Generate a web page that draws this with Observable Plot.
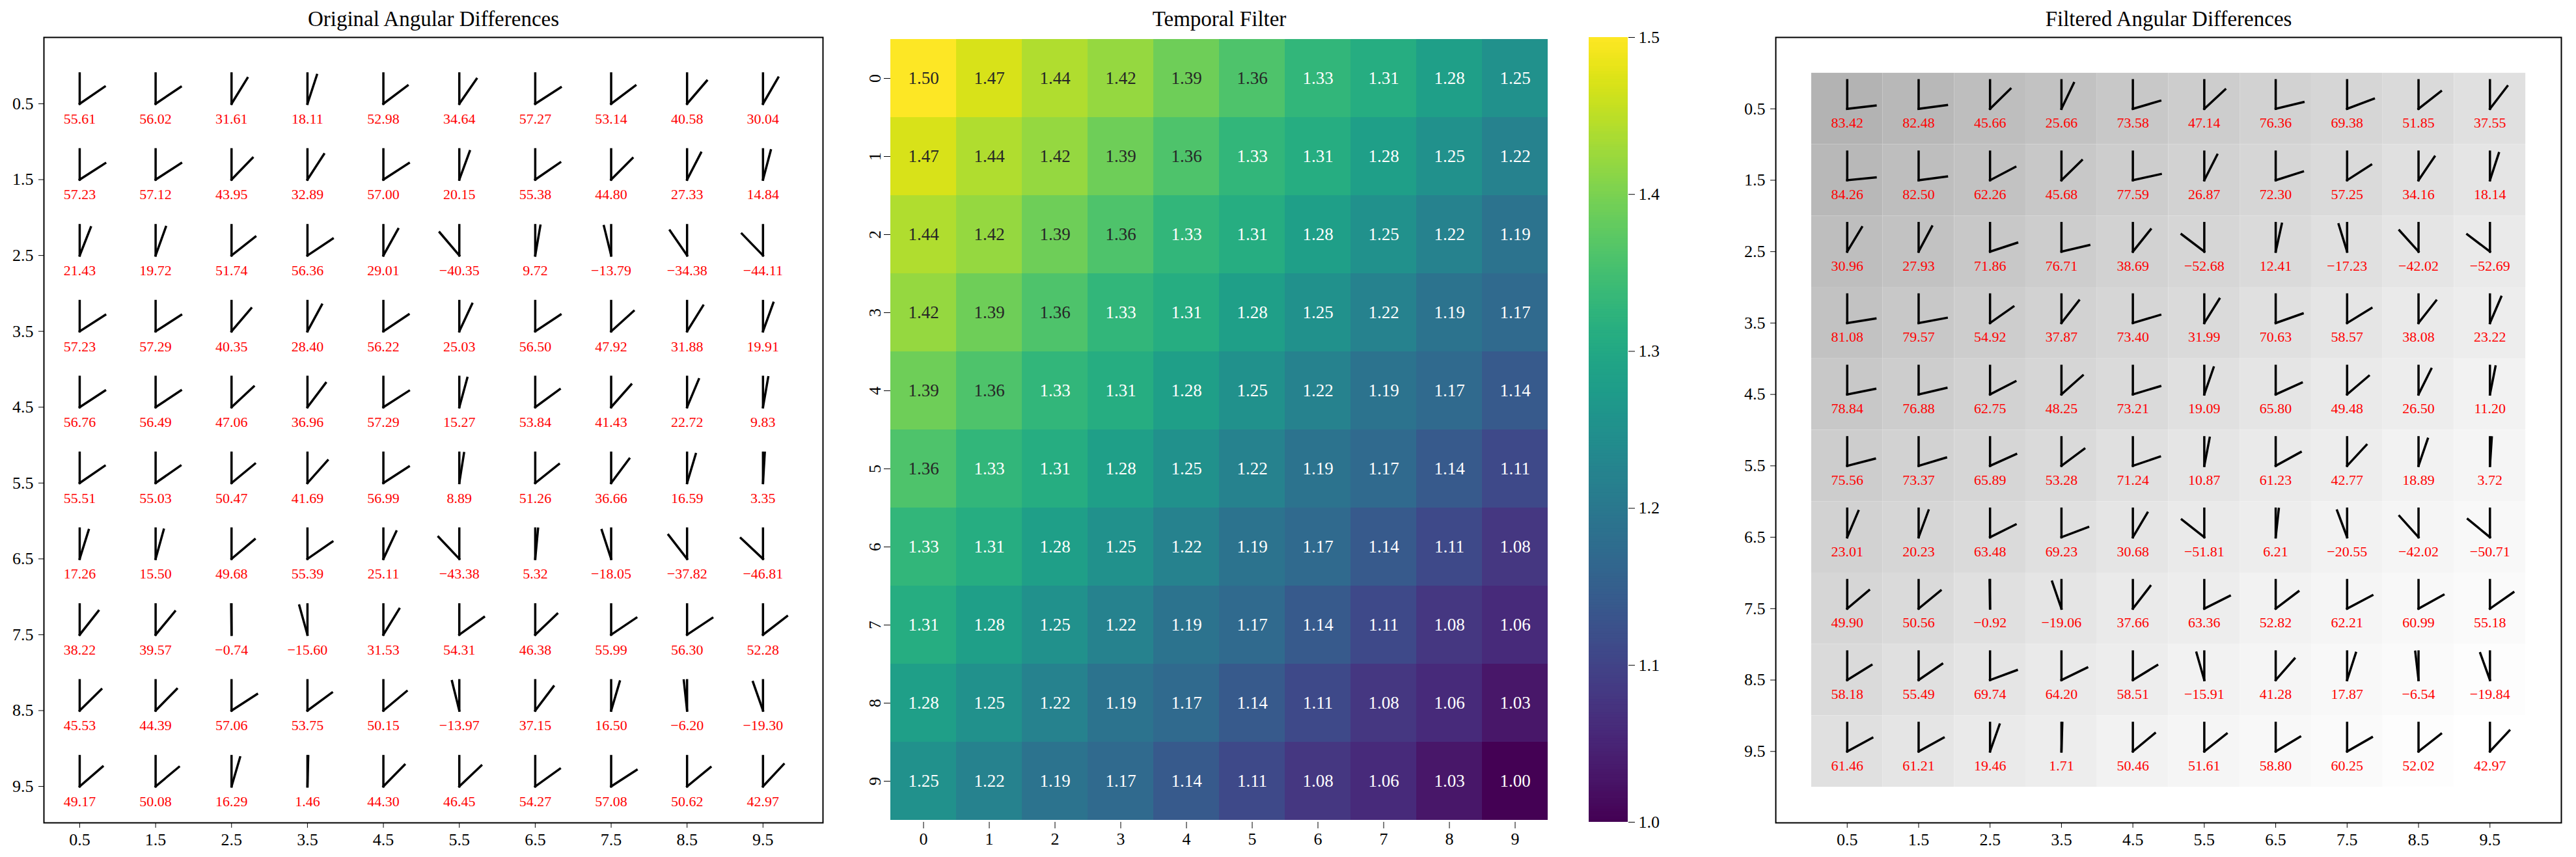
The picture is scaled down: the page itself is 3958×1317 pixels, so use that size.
<!DOCTYPE html>
<html>
<head>
<meta charset="utf-8">
<script src="https://cdn.jsdelivr.net/npm/d3@7"></script>
<script src="https://cdn.jsdelivr.net/npm/@observablehq/plot@0.6"></script>
<style>
  html, body { margin: 0; padding: 0; background: white; }
  #root { position: relative; width: 3958px; height: 1317px; background: white; overflow: hidden; }
  #root svg { position: absolute; }
</style>
</head>
<body>
<div id="root"></div>
<script>
// ---------------- data ----------------
const gridTicks = [0.5, 1.5, 2.5, 3.5, 4.5, 5.5, 6.5, 7.5, 8.5, 9.5];
const heatLabels = [0, 1, 2, 3, 4, 5, 6, 7, 8, 9];
const colorbarTicks = [1.0, 1.1, 1.2, 1.3, 1.4, 1.5];

const originalAngles = [
  [55.61, 56.02, 31.61, 18.11, 52.98, 34.64, 57.27, 53.14, 40.58, 30.04],
  [57.23, 57.12, 43.95, 32.89, 57.00, 20.15, 55.38, 44.80, 27.33, 14.84],
  [21.43, 19.72, 51.74, 56.36, 29.01, -40.35, 9.72, -13.79, -34.38, -44.11],
  [57.23, 57.29, 40.35, 28.40, 56.22, 25.03, 56.50, 47.92, 31.88, 19.91],
  [56.76, 56.49, 47.06, 36.96, 57.29, 15.27, 53.84, 41.43, 22.72, 9.83],
  [55.51, 55.03, 50.47, 41.69, 56.99, 8.89, 51.26, 36.66, 16.59, 3.35],
  [17.26, 15.50, 49.68, 55.39, 25.11, -43.38, 5.32, -18.05, -37.82, -46.81],
  [38.22, 39.57, -0.74, -15.60, 31.53, 54.31, 46.38, 55.99, 56.30, 52.28],
  [45.53, 44.39, 57.06, 53.75, 50.15, -13.97, 37.15, 16.50, -6.20, -19.30],
  [49.17, 50.08, 16.29, 1.46, 44.30, 46.45, 54.27, 57.08, 50.62, 42.97]
];

const temporalFilter = [
  [1.50, 1.47, 1.44, 1.42, 1.39, 1.36, 1.33, 1.31, 1.28, 1.25],
  [1.47, 1.44, 1.42, 1.39, 1.36, 1.33, 1.31, 1.28, 1.25, 1.22],
  [1.44, 1.42, 1.39, 1.36, 1.33, 1.31, 1.28, 1.25, 1.22, 1.19],
  [1.42, 1.39, 1.36, 1.33, 1.31, 1.28, 1.25, 1.22, 1.19, 1.17],
  [1.39, 1.36, 1.33, 1.31, 1.28, 1.25, 1.22, 1.19, 1.17, 1.14],
  [1.36, 1.33, 1.31, 1.28, 1.25, 1.22, 1.19, 1.17, 1.14, 1.11],
  [1.33, 1.31, 1.28, 1.25, 1.22, 1.19, 1.17, 1.14, 1.11, 1.08],
  [1.31, 1.28, 1.25, 1.22, 1.19, 1.17, 1.14, 1.11, 1.08, 1.06],
  [1.28, 1.25, 1.22, 1.19, 1.17, 1.14, 1.11, 1.08, 1.06, 1.03],
  [1.25, 1.22, 1.19, 1.17, 1.14, 1.11, 1.08, 1.06, 1.03, 1.00]
];

const filteredAngles = [
  [83.42, 82.48, 45.66, 25.66, 73.58, 47.14, 76.36, 69.38, 51.85, 37.55],
  [84.26, 82.50, 62.26, 45.68, 77.59, 26.87, 72.30, 57.25, 34.16, 18.14],
  [30.96, 27.93, 71.86, 76.71, 38.69, -52.68, 12.41, -17.23, -42.02, -52.69],
  [81.08, 79.57, 54.92, 37.87, 73.40, 31.99, 70.63, 58.57, 38.08, 23.22],
  [78.84, 76.88, 62.75, 48.25, 73.21, 19.09, 65.80, 49.48, 26.50, 11.20],
  [75.56, 73.37, 65.89, 53.28, 71.24, 10.87, 61.23, 42.77, 18.89, 3.72],
  [23.01, 20.23, 63.48, 69.23, 30.68, -51.81, 6.21, -20.55, -42.02, -50.71],
  [49.90, 50.56, -0.92, -19.06, 37.66, 63.36, 52.82, 62.21, 60.99, 55.18],
  [58.18, 55.49, 69.74, 64.20, 58.51, -15.91, 41.28, 17.87, -6.54, -19.84],
  [61.46, 61.21, 19.46, 1.71, 50.46, 51.61, 58.80, 60.25, 52.02, 42.97]
];

// ---------------- helpers ----------------
const FONT = "Liberation Serif";
const baseStyle = {fontFamily: FONT, fontSize: "26px", background: "transparent", overflow: "visible"};
const L = 0.4;
const fmtAngle = v => v.toFixed(2).replace("-", "\u2212");
const toGlyphs = angles => angles.flatMap((row, i) => row.map((a, j) => ({x: gridTicks[j], y: gridTicks[i], a})));
const root = document.getElementById("root");
function place(svg, left, top) {
  svg.style.left = left + "px";
  svg.style.top = top + "px";
  root.appendChild(svg);
}
function titleMark(t) {
  return Plot.text([t], {text: d => d, frameAnchor: "top", lineAnchor: "middle", dy: -28, fontSize: 33, fill: "black"});
}

function glyphMarks(g) {
  return [
    Plot.link(g, {x1: "x", y1: "y", x2: "x", y2: d => d.y - L, stroke: "black", strokeWidth: 3.5, strokeLinecap: "square"}),
    Plot.link(g, {x1: "x", y1: "y",
      x2: d => d.x + L * Math.sin(d.a * Math.PI / 180),
      y2: d => d.y - L * Math.cos(d.a * Math.PI / 180),
      stroke: "black", strokeWidth: 3.5, strokeLinecap: "square"}),
    Plot.text(g, {x: "x", y: d => d.y + 0.2, text: d => fmtAngle(d.a), fill: "red", fontSize: 22})
  ];
}

// ---------------- left panel ----------------
const leftPlot = Plot.plot({
  width: 1300, height: 1317,
  marginLeft: 67, marginRight: 36, marginTop: 57, marginBottom: 53,
  style: baseStyle,
  x: {domain: [0.029, 10.29], ticks: gridTicks, tickFormat: d => d.toFixed(1), tickSize: 8, tickPadding: 8, label: null},
  y: {domain: [-0.375, 9.98], reverse: true, ticks: gridTicks, tickFormat: d => d.toFixed(1), tickSize: 8, tickPadding: 8, label: null},
  marks: [
    ...glyphMarks(toGlyphs(originalAngles)),
    Plot.frame({stroke: "black", strokeWidth: 2}),
    titleMark("Original Angular Differences")
  ]
});
place(leftPlot, 0, 0);

// ---------------- middle heatmap ----------------
const heatData = temporalFilter.flatMap((row, i) => row.map((v, j) => ({r: heatLabels[i], c: heatLabels[j], v})));
const viridis = {type: "linear", scheme: "viridis", domain: [1.0, 1.5]};
const heatPlot = Plot.plot({
  width: 1100, height: 1317,
  marginLeft: 68, marginRight: 22, marginTop: 57, marginBottom: 54,
  style: baseStyle,
  color: viridis,
  x: {domain: heatLabels, padding: 0, tickSize: 10, tickPadding: 6, label: null},
  y: {domain: heatLabels, padding: 0, tickSize: 10, tickPadding: 6, tickRotate: -90, label: null},
  marks: [
    Plot.cell(heatData, {x: "c", y: "r", fill: "v", inset: 0}),
    Plot.text(heatData.filter(d => d.v > 1.345), {x: "c", y: "r", text: d => d.v.toFixed(2), fill: "#262626", fontSize: 27}),
    Plot.text(heatData.filter(d => d.v <= 1.345), {x: "c", y: "r", text: d => d.v.toFixed(2), fill: "white", fontSize: 27}),
    titleMark("Temporal Filter")
  ]
});
place(heatPlot, 1300, 0);

// ---------------- colorbar ----------------
const cbSteps = d3.range(0, 300).map(k => 1.0 + k * 0.5 / 300);
const cbPlot = Plot.plot({
  width: 200, height: 1317,
  marginLeft: 41, marginRight: 99, marginTop: 57, marginBottom: 54,
  style: baseStyle,
  color: viridis,
  x: {domain: [0, 1], axis: null},
  y: {domain: [1.0, 1.5], ticks: colorbarTicks, tickFormat: d => d.toFixed(1), axis: "right", tickSize: 10, tickPadding: 6, label: null},
  marks: [
    Plot.rect(cbSteps, {x1: 0, x2: 1, y1: d => d, y2: d => Math.min(1.5, d + 0.5 / 300 + 0.0008), fill: d => d + 0.25 / 300, inset: 0})
  ]
});
place(cbPlot, 2400, 0);

// ---------------- right panel ----------------
const bgCells = temporalFilter.flatMap((row, i) => row.map((v, j) => ({x1: heatLabels[j], x2: heatLabels[j] + 1, y1: heatLabels[i], y2: heatLabels[i] + 1, v})));
const rightPlot = Plot.plot({
  width: 1308, height: 1317,
  marginLeft: 78, marginRight: 23, marginTop: 57, marginBottom: 53,
  style: baseStyle,
  color: {type: "linear", domain: [1.0, 1.5], interpolate: t => d3.interpolateRgb("white", d3.interpolateGreys(t))(0.3)},
  x: {domain: [-0.5, 10.5], ticks: gridTicks, tickFormat: d => d.toFixed(1), tickSize: 8, tickPadding: 8, label: null},
  y: {domain: [-0.5, 10.5], reverse: true, ticks: gridTicks, tickFormat: d => d.toFixed(1), tickSize: 8, tickPadding: 8, label: null},
  marks: [
    Plot.rect(bgCells, {x1: "x1", x2: "x2", y1: "y1", y2: "y2", fill: "v", inset: 0}),
    ...glyphMarks(toGlyphs(filteredAngles)),
    Plot.frame({stroke: "black", strokeWidth: 2}),
    titleMark("Filtered Angular Differences")
  ]
});
place(rightPlot, 2650, 0);
</script>
</body>
</html>
